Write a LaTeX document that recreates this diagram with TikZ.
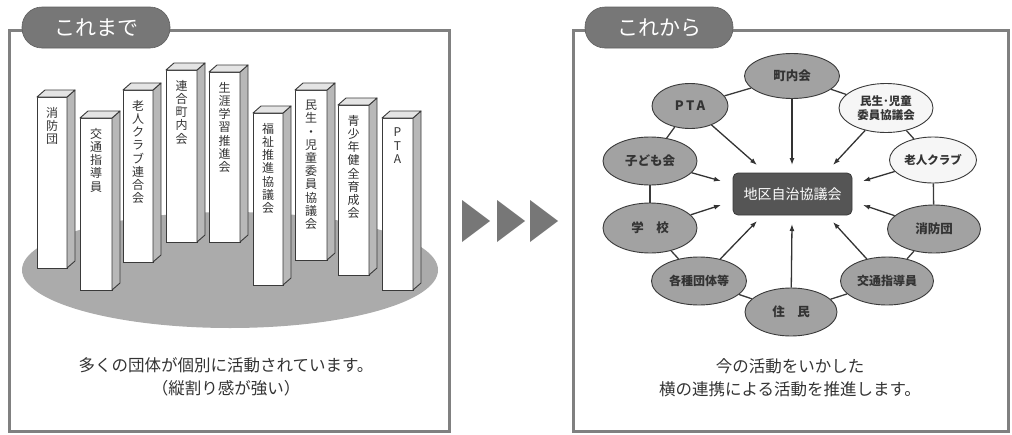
\documentclass[tikz,border=0pt]{standalone}
\usepackage{fontspec}
\newfontfamily\jp{Noto Sans CJK JP}
\usetikzlibrary{shapes.geometric,arrows.meta}
\definecolor{framec}{HTML}{808080}
\definecolor{tabc}{HTML}{777777}
\definecolor{groundc}{HTML}{ABABAB}
\definecolor{linec}{HTML}{3A3A3A}
\definecolor{sidec}{HTML}{B8B8B8}
\definecolor{topc}{HTML}{E4E4E4}
\definecolor{darkell}{HTML}{A2A2A2}
\definecolor{lightell}{HTML}{F6F6F6}
\definecolor{boxc}{HTML}{555555}
\definecolor{txtc}{HTML}{333333}
\tikzset{
  frame/.style={draw=framec, line width=3pt},
  tab/.style={fill=tabc, draw=tabc!80!black, line width=0.6pt, rounded corners=20pt, minimum width=148pt, minimum height=41pt, inner sep=0pt, text=white, font=\jp\fontsize{21}{21}\selectfont},
  pfront/.style={fill=white, draw=linec, line width=0.9pt},
  pside/.style={fill=sidec, draw=linec, line width=0.9pt, line join=round},
  ptop/.style={fill=topc, draw=linec, line width=0.9pt, line join=round},
  vt/.style={anchor=north, align=center, inner sep=0pt, text=txtc, font=\jp\fontsize{12}{13.2}\selectfont},
  org/.style={ellipse, draw=linec, line width=0.9pt, fill=darkell, inner sep=0pt, text=txtc, font=\jp\bfseries\fontsize{12.5}{14}\selectfont, align=center},
  orgl/.style={org, fill=lightell},
  hub/.style={rectangle, rounded corners=5pt, fill=boxc, draw=linec, line width=0.8pt, minimum width=119pt, minimum height=42pt, text=white, font=\jp\fontsize{14}{14}\selectfont},
  ring/.style={draw=linec, line width=1.3pt},
  feed/.style={draw=txtc, line width=1.3pt, -{Latex[length=7pt,width=5pt]}},
  caption/.style={align=center, text=txtc, font=\jp\fontsize{16.5}{23}\selectfont},
  chev/.style={fill=tabc}
}
\newcommand\pillar[6]{%
  \draw[pfront] (#2,#4) rectangle (#3,#5);
  \draw[pside] (#3,#5) -- (#3,#4) -- ++(8,-7) -- ++(0,{#5-#4}) -- cycle;
  \draw[ptop] (#2,#4) -- ++(8,-7) -- ++({#3-#2},0) -- (#3,#4) -- cycle;
  \node[vt] (#1) at ({(#2+#3)/2},{#4+10}) {#6};
}
\begin{document}
\begin{tikzpicture}[x=1pt,y=-1pt]
\useasboundingbox (0,0) rectangle (1012,434);
% ---------- left panel ----------
\draw[frame] (9.5,30) rectangle (449,431);
\node[tab] (tabL) at (96,27.5) {これまで};
\fill[groundc] (230,270) ellipse [x radius=208pt, y radius=58pt];
\pillar{p1}{37}{67}{97}{268}{消\\防\\団}
\pillar{p2}{80}{112}{118}{290}{交\\通\\指\\導\\員}
\pillar{p3}{123}{153}{90}{262}{老\\人\\ク\\ラ\\ブ\\連\\合\\会}
\pillar{p4}{166}{197}{70}{242}{連\\合\\町\\内\\会}
\pillar{p5}{209}{240}{72}{242}{生\\涯\\学\\習\\推\\進\\会}
\pillar{p6}{253}{283}{113}{285}{福\\祉\\推\\進\\協\\議\\会}
\pillar{p7}{295}{327}{90}{260}{民\\生\\・\\児\\童\\委\\員\\協\\議\\会}
\pillar{p8}{338}{369}{105}{275}{青\\少\\年\\健\\全\\育\\成\\会}
\pillar{p9}{382}{413}{118}{290}{P\\T\\A}
\node[caption] (capL) at (226,377) {多くの団体が個別に活動されています。\\（縦割り感が強い）};
% ---------- chevrons ----------
\fill[chev] (462,200) -- (490,221) -- (462,242) -- cycle;
\fill[chev] (497,200) -- (525,221) -- (497,242) -- cycle;
\fill[chev] (530,200) -- (558,221) -- (530,242) -- cycle;
% ---------- right panel ----------
\draw[frame] (573.5,30) rectangle (1008.5,431);
\node[tab] (tabR) at (659,27.5) {これから};
\node[hub] (hub) at (792.5,194) {地区自治協議会};
\node[org, minimum width=95pt, minimum height=45pt] (cho) at (792,76) {町内会};
\node[org, minimum width=76pt, minimum height=45pt, font=\jp\bfseries\fontsize{13}{14}\selectfont] (pta) at (690,106) {P\,T\,A};
\node[orgl, minimum width=94pt, minimum height=49pt, font=\jp\bfseries\fontsize{11.5}{14}\selectfont] (min) at (886,108) {民生･児童\\委員協議会};
\node[org, minimum width=94pt, minimum height=48pt] (kod) at (650,161) {子ども会};
\node[orgl, minimum width=87pt, minimum height=46pt, font=\jp\bfseries\fontsize{11.5}{14}\selectfont] (roj) at (933,160) {老人クラブ};
\node[org, minimum width=94pt, minimum height=50pt] (gak) at (650,228) {学\hspace{1em}校};
\node[org, minimum width=93pt, minimum height=48pt] (sho) at (934,229) {消防団};
\node[org, minimum width=95pt, minimum height=48pt, font=\jp\bfseries\fontsize{12}{14}\selectfont] (kak) at (699,281) {各種団体等};
\node[org, minimum width=93pt, minimum height=48pt, font=\jp\bfseries\fontsize{12}{14}\selectfont] (kot) at (887,281) {交通指導員};
\node[org, minimum width=92pt, minimum height=48pt] (ju) at (791,312) {住\hspace{1em}民};
% ring
\draw[ring] (cho) -- (min);
\draw[ring] (min) -- (roj);
\draw[ring] (roj) -- (sho);
\draw[ring] (sho) -- (kot);
\draw[ring] (kot) -- (ju);
\draw[ring] (ju) -- (kak);
\draw[ring] (kak) -- (gak);
\draw[ring] (gak) -- (kod);
\draw[ring] (kod) -- (pta);
\draw[ring] (pta) -- (cho);
% arrow targets
\coordinate (tpta) at (757,165);
\coordinate (tcho) at (792,165);
\coordinate (tmin) at (833,165);
\coordinate (troj) at (863,181);
\coordinate (tsho) at (863,205);
\coordinate (tkot) at (833,222);
\coordinate (tju) at (792,224);
\coordinate (tkak) at (757,221);
\coordinate (tgak) at (721,205);
\coordinate (tkod) at (721,181);
\draw[feed] (pta) -- (tpta);
\draw[feed] (cho) -- (tcho);
\draw[feed] (min) -- (tmin);
\draw[feed] (roj) -- (troj);
\draw[feed] (sho) -- (tsho);
\draw[feed] (kot) -- (tkot);
\draw[feed] (ju) -- (tju);
\draw[feed] (kak) -- (tkak);
\draw[feed] (gak) -- (tgak);
\draw[feed] (kod) -- (tkod);
\node[caption] (capR) at (790,378) {今の活動をいかした\\横の連携による活動を推進します。};
\end{tikzpicture}
\end{document}
